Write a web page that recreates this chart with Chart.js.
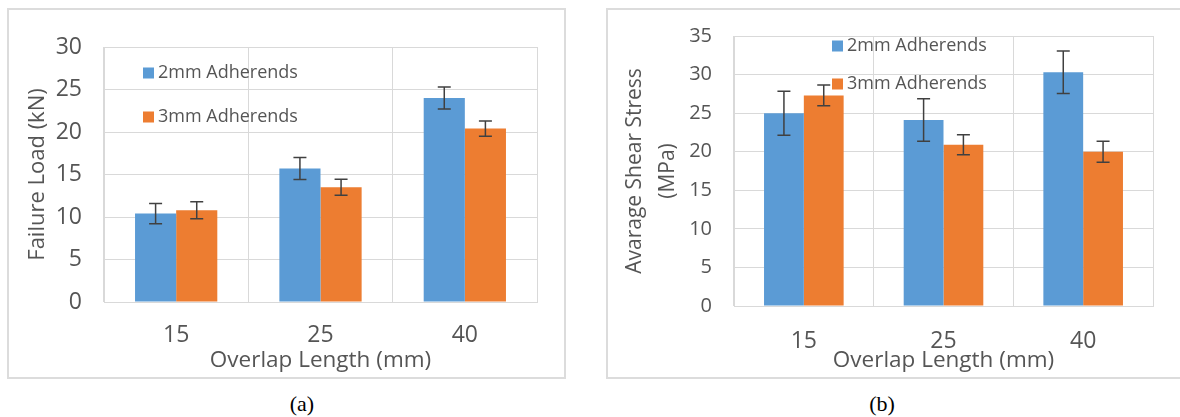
<!DOCTYPE html>
<html>
<head>
<meta charset="utf-8">
<script src="https://cdn.jsdelivr.net/npm/chart.js@4.4.1/dist/chart.umd.min.js"></script>
<style>
    html, body { margin: 0; padding: 0; background: #fff; overflow: hidden; }
    body { width: 1180px; height: 417px; position: relative; }
    .box { position: absolute; box-sizing: border-box; border: 2px solid #dcdcdc; }
    .plot { position: absolute; }
    .caption { position: absolute; width: 60px; margin-left: -30px; text-align: center;
        font-family: "Liberation Serif", "DejaVu Serif", serif; font-size: 22px; color: #000; }
</style>
</head>
<body>
    <div class="box" style="left:7px;top:8px;width:559px;height:371px;"></div>
    <div class="box" style="left:606px;top:8px;width:600px;height:371px;"></div>
    <div class="plot" style="left:8px;top:9px;width:556px;height:368px;"><canvas id="chartA"></canvas></div>
    <div class="plot" style="left:607px;top:9px;width:590px;height:368px;"><canvas id="chartB"></canvas></div>
    <div class="caption" style="left:302px;top:391px;">(a)</div>
    <div class="caption" style="left:882px;top:391px;">(b)</div>
<script>
var categories = ['15', '25', '40'];
var seriesNames = ['2mm Adherends', '3mm Adherends'];

// (a) failure load, kN
var load2mm = [10.4, 15.7, 24.0];
var load2mmErr = [1.2, 1.3, 1.3];
var load3mm = [10.8, 13.5, 20.4];
var load3mmErr = [1.0, 0.95, 0.9];

// (b) average shear stress, MPa
var stress2mm = [25.0, 24.1, 30.3];
var stress2mmErr = [2.85, 2.75, 2.75];
var stress3mm = [27.3, 20.9, 20.0];
var stress3mmErr = [1.35, 1.3, 1.35];

var blue = '#5b9bd5';
var orange = '#ed7d31';
var textGray = '#555555';
var gridGray = '#d9d9d9';

// error bars drawn on top of each bar from dataset.errors
var errorBars = {
    id: 'errorBars',
    afterDatasetsDraw: function (chart) {
        var ctx = chart.ctx;
        var yScale = chart.scales.y;
        ctx.save();
        ctx.strokeStyle = '#404040';
        ctx.lineWidth = 1.5;
        chart.data.datasets.forEach(function (ds, i) {
            var meta = chart.getDatasetMeta(i);
            meta.data.forEach(function (bar, j) {
                var v = ds.data[j];
                var e = ds.errors[j];
                var top = yScale.getPixelForValue(v + e);
                var bottom = yScale.getPixelForValue(v - e);
                ctx.beginPath();
                ctx.moveTo(bar.x, top);
                ctx.lineTo(bar.x, bottom);
                ctx.moveTo(bar.x - 6.5, top);
                ctx.lineTo(bar.x + 6.5, top);
                ctx.moveTo(bar.x - 6.5, bottom);
                ctx.lineTo(bar.x + 6.5, bottom);
                ctx.stroke();
            });
        });
        ctx.restore();
    }
};

// legend inside the plot area, one entry per row
var innerLegend = {
    id: 'innerLegend',
    afterDraw: function (chart, args, opts) {
        var ctx = chart.ctx;
        var area = chart.chartArea;
        ctx.save();
        ctx.font = '18px "Open Sans"';
        ctx.textBaseline = 'middle';
        chart.data.datasets.forEach(function (ds, i) {
            var x = area.left + opts.x;
            var y = area.top + opts.rows[i];
            ctx.fillStyle = ds.backgroundColor;
            ctx.fillRect(x, y - 5.5, 11, 11);
            ctx.fillStyle = textGray;
            ctx.fillText(ds.label, x + 15, y);
        });
        ctx.restore();
    }
};

function makeChart(id, values, opts) {
    return new Chart(document.getElementById(id), {
        type: 'bar',
        data: {
            labels: categories,
            datasets: [
                { label: seriesNames[0], data: values[0], errors: values[1], backgroundColor: blue },
                { label: seriesNames[1], data: values[2], errors: values[3], backgroundColor: orange }
            ]
        },
        plugins: [errorBars, innerLegend],
        options: {
            responsive: true,
            maintainAspectRatio: false,
            animation: false,
            layout: { padding: { top: opts.padTop, right: opts.padRight, left: 0, bottom: 0 } },
            datasets: { bar: { categoryPercentage: 0.57, barPercentage: 1.0 } },
            plugins: {
                legend: { display: false },
                tooltip: { enabled: false },
                innerLegend: opts.legend
            },
            scales: {
                x: {
                    grid: { color: gridGray, offset: true, drawTicks: false },
                    border: { color: gridGray },
                    ticks: { color: textGray, padding: opts.xTickPad, font: { family: 'Open Sans', size: 23 } },
                    title: {
                        display: true, text: 'Overlap Length (mm)', color: textGray,
                        font: { family: 'Open Sans', size: 22.5 }, padding: { top: 0, bottom: opts.xTitlePad }
                    },
                    afterFit: function (scale) { scale.height = opts.xHeight; }
                },
                y: {
                    min: 0, max: opts.yMax,
                    grid: { color: gridGray, drawTicks: false },
                    border: { color: gridGray },
                    ticks: { stepSize: 5, color: textGray, padding: 22, font: { family: 'Open Sans', size: opts.yTickSize } },
                    title: {
                        display: true, text: opts.yTitle, color: textGray,
                        font: { family: 'Open Sans', size: opts.yTitleSize, lineHeight: opts.yTitleLine },
                        padding: { top: opts.yTitlePad, bottom: 0 }
                    },
                    afterFit: function (scale) {
                        scale.width = opts.yWidth;
                        // keep the plot top set by layout padding only
                        scale.paddingTop = 0;
                        scale.paddingBottom = 0;
                    }
                }
            }
        }
    });
}

makeChart('chartA', [load2mm, load2mmErr, load3mm, load3mmErr], {
    padTop: 38, padRight: 27, xHeight: 75, yWidth: 96, yMax: 30,
    xTickPad: 20, xTitlePad: 3, yTickSize: 23,
    yTitle: 'Failure Load (kN)', yTitleSize: 22, yTitleLine: 1.2, yTitlePad: 17,
    legend: { x: 39, rows: [26, 70] }
});

makeChart('chartB', [stress2mm, stress2mmErr, stress3mm, stress3mmErr], {
    padTop: 27, padRight: 44, xHeight: 71, yWidth: 127, yMax: 35,
    xTickPad: 22, xTitlePad: 3, yTickSize: 20,
    yTitle: ['Avarage Shear Stress', '(MPa)'], yTitleSize: 21, yTitleLine: 1.57, yTitlePad: 12,
    legend: { x: 98, rows: [10, 48] }
});
</script>
</body>
</html>
